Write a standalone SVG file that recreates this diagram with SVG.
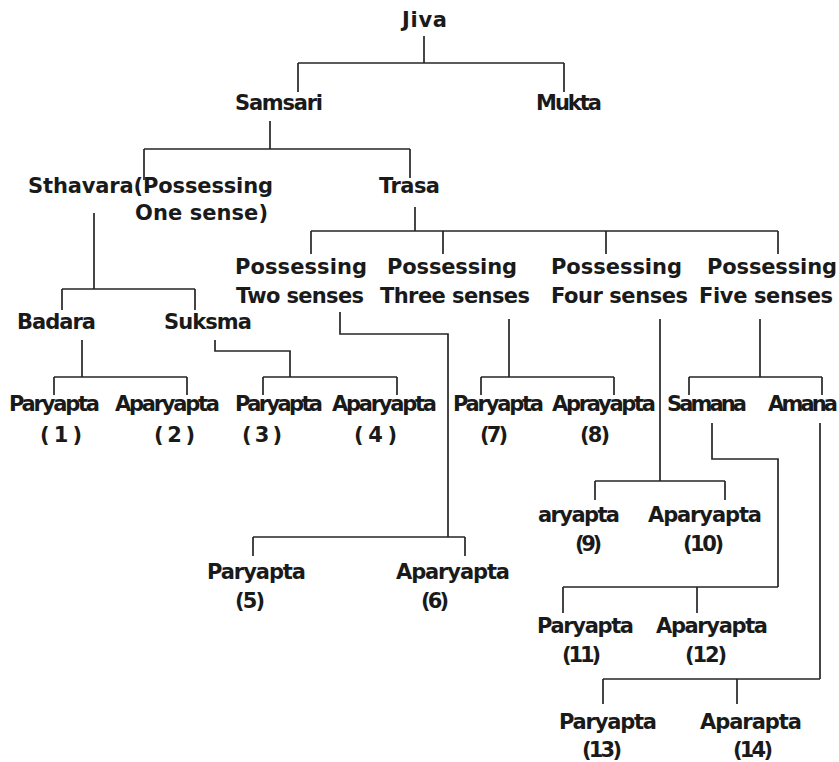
<svg xmlns="http://www.w3.org/2000/svg" width="839" height="762" viewBox="0 0 839 762">
<style>
  .bg { fill: #ffffff; }
  .lbl { font-family: "DejaVu Sans", Verdana, sans-serif; font-weight: bold; font-size: 21px; fill: #1a1a1a; }
  .conn path { fill: none; stroke: #262626; stroke-width: 1.7; }
</style>
<rect class="bg" x="0" y="0" width="839" height="762"/>

<g id="connectors" class="conn">
  <path d="M424,36 V63 M298,63 H564 M298,63 V92 M564,63 V92"/>
  <path d="M270,121 V149 M144,149 H410 M144,149 V180 M410,149 V178"/>
  <path d="M415,207 V231 M311,231 H778 M311,231 V254 M443,231 V254 M606,231 V254 M778,231 V254"/>
  <path d="M94,213 V289 M62,289 H195 M62,289 V310 M195,289 V310"/>
  <path d="M82,340 V377 M54,377 H187 M54,377 V395 M187,377 V395"/>
  <path d="M215,340 V351 H290 V377 M263,377 H397 M263,377 V395 M397,377 V395"/>
  <path d="M340,312 V334 H448 V537 M253,537 H465 M253,537 V556 M465,537 V556"/>
  <path d="M509,319 V377 M481,377 H614 M481,377 V395 M614,377 V395"/>
  <path d="M660,319 V481 M595,481 H725 M595,481 V500 M725,481 V500"/>
  <path d="M760,319 V377 M689,377 H822 M689,377 V395 M822,377 V395"/>
  <path d="M712,423 V459 H778 V587 M563,587 H778 M563,587 V613 M697,587 V613"/>
  <path d="M820,423 V679 M603,679 H820 M603,679 V704 M737,679 V704"/>
</g>

<g id="jiva"><text class="lbl" x="402" y="27" textLength="45">Jiva</text></g>
<g id="samsari"><text class="lbl" x="235" y="110" textLength="88">Samsari</text></g>
<g id="mukta"><text class="lbl" x="536" y="110" textLength="66">Mukta</text></g>
<g id="sthavara">
  <text class="lbl" x="28" y="193" textLength="245">Sthavara(Possessing</text>
  <text class="lbl" x="135" y="220" textLength="133">One sense)</text>
</g>
<g id="trasa"><text class="lbl" x="379" y="193" textLength="61">Trasa</text></g>

<g id="two-senses">
  <text class="lbl" x="235" y="274" textLength="132">Possessing</text>
  <text class="lbl" x="236" y="303" textLength="128">Two senses</text>
</g>
<g id="three-senses">
  <text class="lbl" x="387" y="274" textLength="130">Possessing</text>
  <text class="lbl" x="380" y="303" textLength="150">Three senses</text>
</g>
<g id="four-senses">
  <text class="lbl" x="551" y="274" textLength="131">Possessing</text>
  <text class="lbl" x="551" y="303" textLength="137">Four senses</text>
</g>
<g id="five-senses">
  <text class="lbl" x="707" y="274" textLength="130">Possessing</text>
  <text class="lbl" x="699" y="303" textLength="134">Five senses</text>
</g>

<g id="badara"><text class="lbl" x="17" y="329" textLength="79">Badara</text></g>
<g id="suksma"><text class="lbl" x="164" y="329" textLength="88">Suksma</text></g>

<g id="n1">
  <text class="lbl" x="9" y="411" textLength="91">Paryapta</text>
  <text class="lbl" x="40" y="442" textLength="42">( 1 )</text>
</g>
<g id="n2">
  <text class="lbl" x="115" y="411" textLength="105">Aparyapta</text>
  <text class="lbl" x="154" y="442" textLength="41">( 2 )</text>
</g>
<g id="n3">
  <text class="lbl" x="235" y="411" textLength="88">Paryapta</text>
  <text class="lbl" x="242" y="442" textLength="40">( 3 )</text>
</g>
<g id="n4">
  <text class="lbl" x="332" y="411" textLength="105">Aparyapta</text>
  <text class="lbl" x="354" y="442" textLength="43">( 4 )</text>
</g>
<g id="n7">
  <text class="lbl" x="453" y="411" textLength="91">Paryapta</text>
  <text class="lbl" x="480" y="442" textLength="28">(7)</text>
</g>
<g id="n8">
  <text class="lbl" x="552" y="411" textLength="104">Aprayapta</text>
  <text class="lbl" x="580" y="442" textLength="30">(8)</text>
</g>
<g id="samana"><text class="lbl" x="667" y="411" textLength="80">Samana</text></g>
<g id="amana"><text class="lbl" x="768" y="411" textLength="70">Amana</text></g>

<g id="n9">
  <text class="lbl" x="538" y="522" textLength="82">aryapta</text>
  <text class="lbl" x="575" y="551" textLength="27">(9)</text>
</g>
<g id="n10">
  <text class="lbl" x="648" y="522" textLength="114">Aparyapta</text>
  <text class="lbl" x="683" y="551" textLength="41">(10)</text>
</g>
<g id="n5">
  <text class="lbl" x="207" y="579" textLength="99">Paryapta</text>
  <text class="lbl" x="235" y="608" textLength="30">(5)</text>
</g>
<g id="n6">
  <text class="lbl" x="396" y="579" textLength="114">Aparyapta</text>
  <text class="lbl" x="421" y="608" textLength="28">(6)</text>
</g>
<g id="n11">
  <text class="lbl" x="537" y="633" textLength="97">Paryapta</text>
  <text class="lbl" x="562" y="662" textLength="39">(11)</text>
</g>
<g id="n12">
  <text class="lbl" x="656" y="633" textLength="112">Aparyapta</text>
  <text class="lbl" x="685" y="662" textLength="42">(12)</text>
</g>
<g id="n13">
  <text class="lbl" x="559" y="729" textLength="98">Paryapta</text>
  <text class="lbl" x="582" y="757" textLength="40">(13)</text>
</g>
<g id="n14">
  <text class="lbl" x="700" y="729" textLength="102">Aparapta</text>
  <text class="lbl" x="733" y="757" textLength="40">(14)</text>
</g>
</svg>
